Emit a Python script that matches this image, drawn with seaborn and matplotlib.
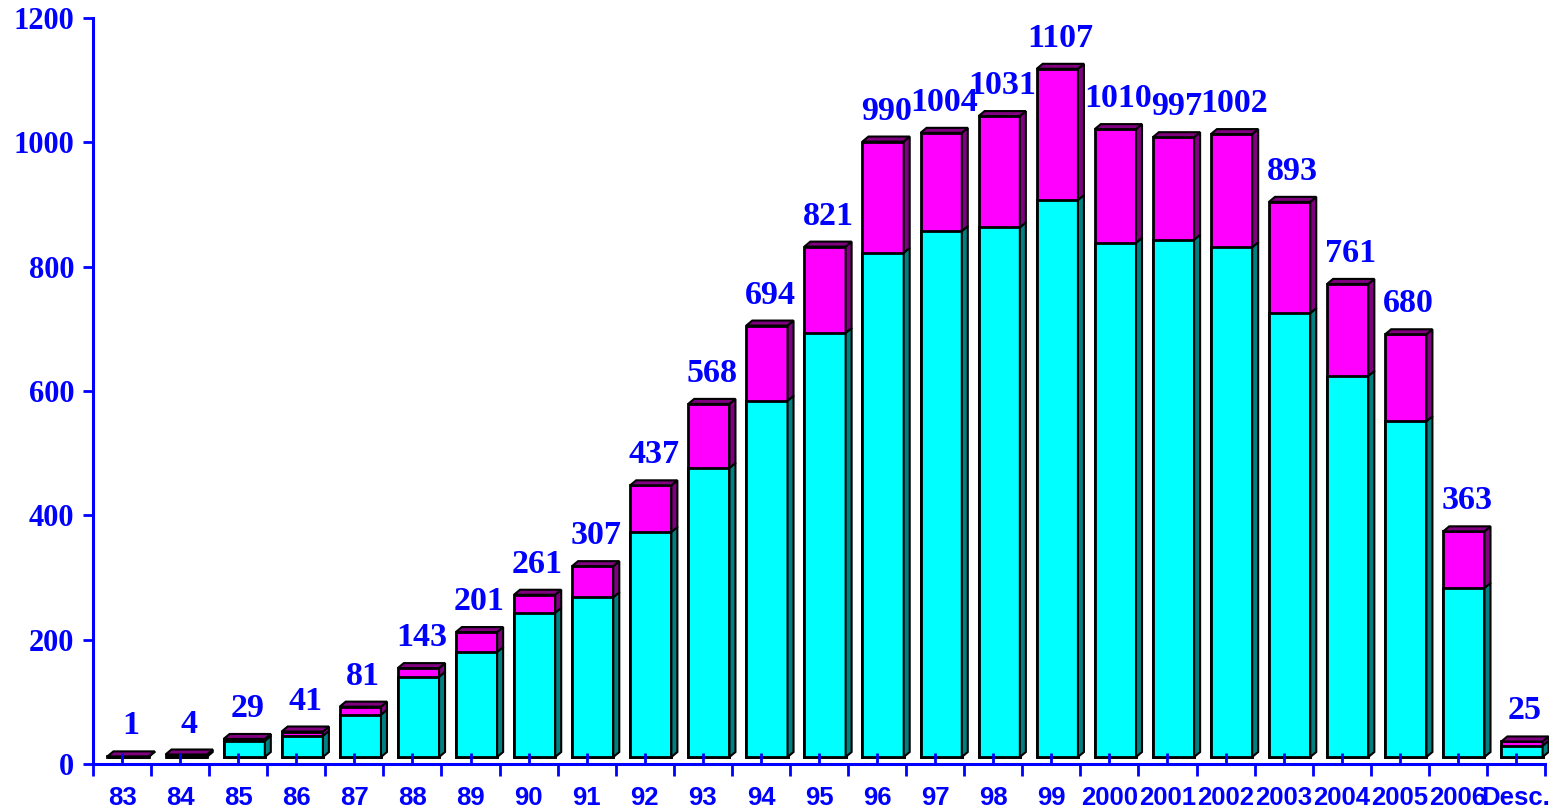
import matplotlib
matplotlib.use("Agg")
import matplotlib.pyplot as plt
import matplotlib.transforms as mtransforms
from matplotlib.patches import Polygon
import seaborn as sns
import pandas as pd
import numpy as np

# data
years = ["83", "84", "85", "86", "87", "88", "89", "90", "91", "92", "93", "94", "95",
         "96", "97", "98", "99", "2000", "2001", "2002", "2003", "2004", "2005", "2006", "Desc."]
totals = [1, 4, 29, 41, 81, 143, 201, 261, 307, 437, 568, 694, 821,
          990, 1004, 1031, 1107, 1010, 997, 1002, 893, 761, 680, 363, 25]
cyan_part = [0, 0, 26, 34, 68, 129, 169, 232, 257, 362, 465, 573, 682,
             811, 846, 852, 896, 827, 832, 820, 714, 613, 540, 272, 18]
y_ticks = [0, 200, 400, 600, 800, 1000, 1200]

df = pd.DataFrame({"year": years, "total": totals, "cyan": cyan_part})

sns.set_theme(style="white")
plt.rcParams['font.family'] = ['Liberation Serif', 'DejaVu Serif']

BLUE = "#0000FF"
CYAN, TEAL = "#00FFFF", "#008080"
MAGENTA, PURPLE = "#FF00FF", "#800080"

fig = plt.figure(figsize=(15.49, 8.09), dpi=100)
ax = fig.add_axes([93 / 1549, 1 - 764 / 809, (1545 - 93) / 1549, (764 - 18) / 809])

sns.barplot(data=df, x="year", y="total", color=MAGENTA, saturation=1, width=0.71,
            edgecolor="black", linewidth=2, ax=ax)
sns.barplot(data=df, x="year", y="cyan", color=CYAN, saturation=1, width=0.71,
            edgecolor="black", linewidth=2, ax=ax)

ax.set_xlim(-0.5, len(years) - 0.5)
ax.set_ylim(0, 1200)
ax.set_xlabel("")
ax.set_ylabel("")

# fake 3D: shift the front faces and add side / top faces
fig.canvas.draw()
bb = ax.get_window_extent()
px_x = bb.width / len(years)
px_y = bb.height / 1200
dx, dy = 6 / px_x, 5 / px_y
shift = mtransforms.ScaledTranslation(6 / 100, 7 / 100, fig.dpi_scale_trans)
tr = ax.transData + shift

top_bars = ax.containers[0]
low_bars = ax.containers[1]
for pt, pl in zip(top_bars, low_bars):
    for p in (pt, pl):
        p.set_transform(tr)
        p.set_clip_on(False)
    x0 = pl.get_x()
    x1 = x0 + pl.get_width()
    c = pl.get_height()
    t = pt.get_height()
    faces = []
    if c > 0:
        faces.append(([(x1, 0), (x1 + dx, dy), (x1 + dx, c + dy), (x1, c)], TEAL))
    if t > c:
        faces.append(([(x1, c), (x1 + dx, c + dy), (x1 + dx, t + dy), (x1, t)], PURPLE))
    top_col = PURPLE if t > c else TEAL
    faces.append(([(x0, t), (x0 + dx, t + dy), (x1 + dx, t + dy), (x1, t)], top_col))
    for verts, col in faces:
        ax.add_patch(Polygon(verts, closed=True, facecolor=col, edgecolor="black",
                             linewidth=1.5, transform=tr, clip_on=False, zorder=2))

# value labels
for i, v in enumerate(totals):
    ax.annotate(str(v), xy=(i, v), xytext=(9 * 0.72, 22 * 0.72), textcoords="offset points",
                ha="center", va="bottom", color=BLUE, fontsize=24.5, fontweight="bold")

# axes styling
for s in ("top", "right"):
    ax.spines[s].set_visible(False)
for s in ("left", "bottom"):
    ax.spines[s].set_color(BLUE)
    ax.spines[s].set_linewidth(2.2)
ax.set_axisbelow(False)

ax.set_yticks(y_ticks)
ax.set_yticklabels([str(v) for v in y_ticks])
ax.tick_params(axis="y", direction="out", length=7.5, width=2, color=BLUE,
               labelcolor=BLUE, labelsize=22, pad=6, left=True)
for lab in ax.get_yticklabels():
    lab.set_fontweight("bold")

ax.set_xticks(np.arange(len(years)))
ax.set_xticklabels(years)
ax.set_xticks(np.arange(len(years) + 1) - 0.5, minor=True)
ax.tick_params(axis="x", which="major", direction="in", length=8, width=2, color=BLUE,
               labelcolor=BLUE, labelsize=18.5, pad=16, bottom=True)
ax.tick_params(axis="x", which="minor", direction="out", length=8.5, width=2, color=BLUE,
               bottom=True)
for lab in ax.get_xticklabels():
    lab.set_fontweight("bold")
    lab.set_family(["Liberation Sans", "DejaVu Sans"])

fig.savefig("out.png", dpi=100)
